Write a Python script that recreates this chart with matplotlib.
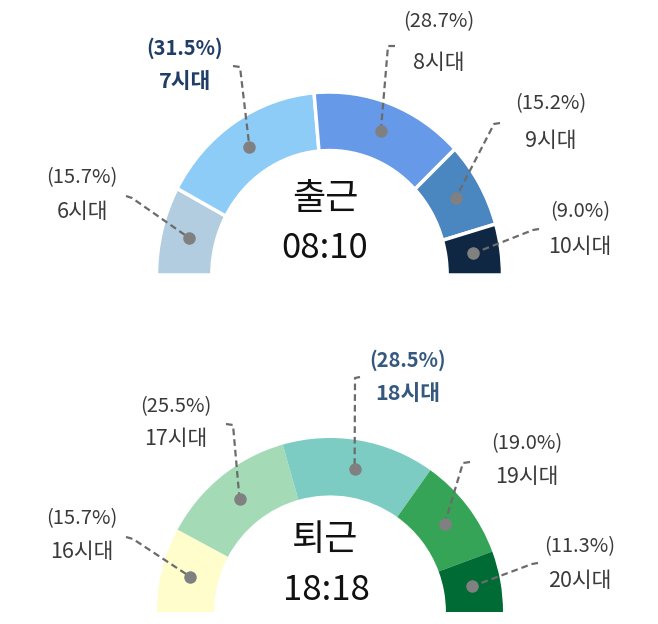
import matplotlib
matplotlib.use('Agg')
import numpy as np
import matplotlib.pyplot as plt

plt.rcParams['font.family'] = ['Noto Sans CJK KR', 'DejaVu Sans']

W, H = 658, 624

# commute (top) gauge
am_hours = ['6시대', '7시대', '8시대', '9시대', '10시대']
am_share = [15.7, 31.5, 28.7, 15.2, 9.0]
am_colors = ['#b3cde0', '#8dccf6', '#6699e8', '#4a86bf', '#0f2742']
am_title = '출근'
am_time = '08:10'
am_peak = 1

# leaving (bottom) gauge
pm_hours = ['16시대', '17시대', '18시대', '19시대', '20시대']
pm_share = [15.7, 25.5, 28.5, 19.0, 11.3]
pm_colors = ['#fefdcb', '#a4dbb6', '#7dccc3', '#35a456', '#006b35']
pm_title = '퇴근'
pm_time = '18:18'
pm_peak = 2

fig = plt.figure(figsize=(W / 100, H / 100), dpi=100)
fig.patch.set_facecolor('white')

# overlay axes in image pixels (top-down)
over = fig.add_axes([0, 0, 1, 1])
over.set_xlim(0, W)
over.set_ylim(H, 0)
over.axis('off')
over.set_zorder(5)
over.patch.set_alpha(0)

grey_txt = '#3a3a3a'
line_col = '#6b6b6b'
dot_col = '#808080'


def gauge(share, colors, center, rx, ry, inner, gap):
    cx, cy = center
    ax = fig.add_axes([0, 0, 1, 1])
    ax.patch.set_alpha(0)
    total = sum(share)
    wedges, _ = ax.pie(share + [total], startangle=180, counterclock=False,
                       colors=colors + ['white'], radius=1,
                       wedgeprops=dict(width=1 - inner,
                                       edgecolor='white' if gap else 'none',
                                       linewidth=gap))
    wedges[-1].set_visible(False)
    ax.set_aspect('auto')
    ax.set_xlim(-cx / rx, (W - cx) / rx)
    ax.set_ylim(-(H - cy) / ry, cy / ry)
    ax.axis('off')
    # dot at middle of each segment, mapped to overlay pixels
    rmid = (1 + inner) / 2
    pts = []
    for w in wedges[:-1]:
        th = np.deg2rad((w.theta1 + w.theta2) / 2)
        disp = ax.transData.transform((rmid * np.cos(th), rmid * np.sin(th)))
        pts.append(over.transData.inverted().transform(disp))
    return pts


am_dots = gauge(am_share, am_colors, (329.5, 275), 173, 183, 0.68, 2.5)
pm_dots = gauge(pm_share, pm_colors, (330, 612), 173, 174, 0.67, 0)

# leader lines: (hook end, corner) ; label centers: (x, pct y, hour y)
am_lead = [((126, 196), (132, 198)), ((233, 66), (240, 67)), ((395, 46), (388, 46)),
           ((500, 123), (494, 124)), ((539, 229), (533, 230))]
am_lab = [(82, 178, 212), (185, 48, 81), (439, 22, 63), (551, 104, 141), (580, 212, 247)]
pm_lead = [((126, 537), (133, 539)), ((226, 424), (233, 425)), ((360, 377), (355, 378)),
           ((470, 462), (463, 463)), ((538, 563), (532, 564))]
pm_lab = [(82, 519, 552), (176, 407, 439), (408, 360, 394), (527, 444, 477), (580, 547, 581)]


def annotate(hours, share, dots, lead, labs, peak, peak_col):
    for i, (h, s) in enumerate(zip(hours, share)):
        (hx, hy), (kx, ky) = lead[i]
        dx, dy = dots[i]
        over.plot([hx, kx, dx], [hy, ky, dy], color=line_col, lw=1.6,
                  ls=(0, (3, 1.8)), solid_capstyle='butt')
        over.plot(dx, dy, 'o', ms=9, color=dot_col, mec='none')
        x, y1, y2 = labs[i]
        col = peak_col if i == peak else grey_txt
        wt = 'bold' if i == peak else 'normal'
        over.text(x, y1, f'({s:.1f}%)', ha='center', va='center',
                  fontsize=14.5, color=col, fontweight=wt)
        over.text(x, y2, h, ha='center', va='center',
                  fontsize=15.5, color=col, fontweight=wt)


annotate(am_hours, am_share, am_dots, am_lead, am_lab, am_peak, '#1f3d66')
annotate(pm_hours, pm_share, pm_dots, pm_lead, pm_lab, pm_peak, '#35587f')

over.text(325, 199, am_title, ha='center', va='center', fontsize=26, color='#111111')
over.text(325, 248, am_time, ha='center', va='center', fontsize=25, color='#111111')
over.text(325, 540, pm_title, ha='center', va='center', fontsize=26, color='#111111')
over.text(326, 591, pm_time, ha='center', va='center', fontsize=25, color='#111111')

fig.savefig('out.png', dpi=100, facecolor='white')
